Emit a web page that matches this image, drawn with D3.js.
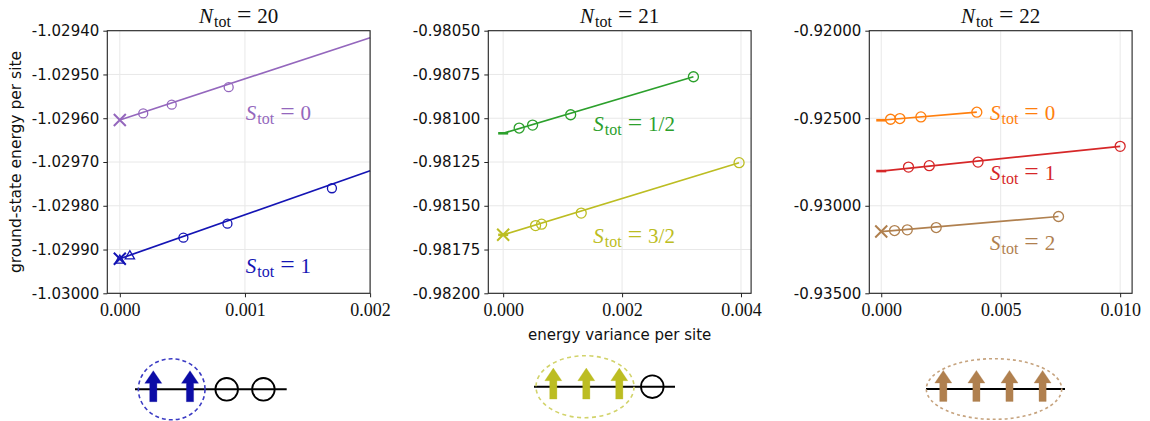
<!DOCTYPE html>
<html>
<head>
<meta charset="utf-8">
<script src="https://cdn.jsdelivr.net/npm/d3@7"></script>
<style>
  body { margin: 0; background: #fff; }
  svg { display: block; }
</style>
</head>
<body>
<svg id="chart" width="1150" height="421"></svg>
<script>
// ---------------- data ----------------
const systemSizes = ["20", "21", "22"];

const xDomains = [[-0.0001, 0.002], [-0.00025, 0.00417], [-0.0005, 0.0105]];
const yDomains = [[-1.0300, -1.0294], [-0.9820, -0.9805], [-0.9350, -0.9200]];

const xTickValues = [[0, 0.001, 0.002], [0, 0.002, 0.004], [0, 0.005, 0.010]];
const yTickValues = [
  [-1.0294, -1.0295, -1.0296, -1.0297, -1.0298, -1.0299, -1.0300],
  [-0.9805, -0.98075, -0.9810, -0.98125, -0.9815, -0.98175, -0.9820],
  [-0.9200, -0.9250, -0.9300, -0.9350]
];

// N_tot = 20
const n20s0Var = [0.000187, 0.000415, 0.00087];
const n20s0E   = [-1.029589, -1.029569, -1.029529];
const n20s0Extrap = [0, -1.029604];
const n20s0FitEnd = [0.002, -1.029416];

const n20s1Var = [0.000508, 0.00086, 0.001695];
const n20s1E   = [-1.029873, -1.029841, -1.029760];
const n20s1TriVar = [0, 0.00008];
const n20s1TriE   = [-1.029925, -1.029915];
const n20s1Extrap = [0, -1.029921];
const n20s1FitEnd = [0.002, -1.029720];

// N_tot = 21
const n21sHalfVar = [0.000269, 0.000495, 0.001135, 0.0032];
const n21sHalfE   = [-0.981056, -0.981039, -0.980980, -0.980763];
const n21sHalfExtrap = [0, -0.981086];

const n21s3HalfVar = [0.000545, 0.000646, 0.001313, 0.003968];
const n21s3HalfE   = [-0.981613, -0.981605, -0.981542, -0.981254];
const n21s3HalfExtrap = [0, -0.981666];

// N_tot = 22
const n22s0Var = [0.00039, 0.00078, 0.00166, 0.0040];
const n22s0E   = [-0.925057, -0.925017, -0.924926, -0.924656];
const n22s0Extrap = [0, -0.925115];

const n22s1Var = [0.00114, 0.00201, 0.00405, 0.0100];
const n22s1E   = [-0.927789, -0.927709, -0.927503, -0.926604];
const n22s1Extrap = [0, -0.928018];

const n22s2Var = [0.000557, 0.00109, 0.0023, 0.00742];
const n22s2E   = [-0.931415, -0.931375, -0.931243, -0.930613];
const n22s2Extrap = [0, -0.931472];

const spinLabels = [["0", "1"], ["1/2", "3/2"], ["0", "1", "2"]];

// site occupations for the cartoons below each panel
const siteStates = [
  ["up", "up", "empty", "empty"],
  ["up", "up", "up", "empty"],
  ["up", "up", "up", "up"]
];

// ---------------- styling / layout ----------------
const colors = {
  purple: "#9467bd", blue: "#1414b4", green: "#2ca02c", olive: "#bcbd22",
  orange: "#ff7f0e", red: "#d62728", brown: "#b0804f"
};
const serif = "'Liberation Serif', 'DejaVu Serif', serif";
const sans = "'DejaVu Sans', 'Liberation Sans', sans-serif";

const plotTop = 30.7, plotBottom = 293.3;
const panelLefts = [107.3, 488.3, 869.3];
const panelWidth = 262.8;

const pts = (xs, ys) => xs.map((x, i) => [x, ys[i]]);
const lastPt = (xs, ys) => [xs[xs.length - 1], ys[ys.length - 1]];

const panels = [
  {
    series: [
      { color: colors.purple, circles: pts(n20s0Var, n20s0E), extrap: n20s0Extrap, fitEnd: n20s0FitEnd,
        markers: ["x"], label: spinLabels[0][0], labelPos: [138.5, 120], r: 4.5 },
      { color: colors.blue, circles: pts(n20s1Var, n20s1E), extrap: n20s1Extrap, fitEnd: n20s1FitEnd,
        triangles: pts(n20s1TriVar, n20s1TriE),
        markers: ["x"], label: spinLabels[0][1], labelPos: [138.5, 273], r: 4.5 }
    ]
  },
  {
    series: [
      { color: colors.green, circles: pts(n21sHalfVar, n21sHalfE), extrap: n21sHalfExtrap,
        fitEnd: lastPt(n21sHalfVar, n21sHalfE), markers: ["bar"], label: spinLabels[1][0], labelPos: [105, 131], r: 5 },
      { color: colors.olive, circles: pts(n21s3HalfVar, n21s3HalfE), extrap: n21s3HalfExtrap,
        fitEnd: lastPt(n21s3HalfVar, n21s3HalfE), markers: ["x", "bar"], label: spinLabels[1][1], labelPos: [105, 243], r: 5 }
    ]
  },
  {
    series: [
      { color: colors.orange, circles: pts(n22s0Var, n22s0E), extrap: n22s0Extrap,
        fitEnd: lastPt(n22s0Var, n22s0E), markers: ["bar"], label: spinLabels[2][0], labelPos: [120.7, 120], r: 5 },
      { color: colors.red, circles: pts(n22s1Var, n22s1E), extrap: n22s1Extrap,
        fitEnd: lastPt(n22s1Var, n22s1E), markers: ["bar"], label: spinLabels[2][1], labelPos: [120.7, 180], r: 5 },
      { color: colors.brown, circles: pts(n22s2Var, n22s2E), extrap: n22s2Extrap,
        fitEnd: lastPt(n22s2Var, n22s2E), markers: ["x"], label: spinLabels[2][2], labelPos: [120.7, 250], r: 5 }
    ]
  }
];

// cartoon layout: first site x, site spacing, line y, ellipse centre / radii, colours
const cartoons = [
  { x0: 153.3, dx: 36.7, y: 389.3, lineL: 135, lineR: 286.7, ex: 171.7, rx: 33.3, ry: 30.5,
    fill: "#0c0ca6", ring: "#3c3cc4", dash: "4,3" },
  { x0: 553.3, dx: 33.0, y: 386.7, lineL: 534, lineR: 675, ex: 585, rx: 49, ry: 31,
    fill: "#bcbd22", ring: "#d2d36a", dash: "4,3.5" },
  { x0: 943.3, dx: 33.1, y: 389, lineL: 926, lineR: 1065, ex: 994, rx: 67.7, ry: 30.3,
    fill: "#b0804f", ring: "#c6a37e", dash: "3,3" }
];

// ---------------- drawing ----------------
const svg = d3.select("#chart");
const fmtY = v => d3.format(".5f")(v).replace("\u2212", "-");
const fmtX = v => d3.format(".3f")(v);

// math-style label: italic symbol, roman subscript, "=" and value
function mathText(g, x, y, sym, sub, val, size, color, anchor, gap) {
  const t = g.append("text")
    .attr("x", x).attr("y", y)
    .attr("font-family", serif).attr("font-size", size)
    .attr("fill", color).attr("text-anchor", anchor);
  t.append("tspan").attr("font-style", "italic").text(sym);
  t.append("tspan").attr("font-size", size * 0.76).attr("dy", size * 0.2).attr("dx", 1).text(sub);
  t.append("tspan").attr("dy", -size * 0.2).attr("dx", gap).attr("font-size", size * 1.22).text("=");
  t.append("tspan").attr("dx", gap).text(val);
  return t;
}

panels.forEach((p, i) => {
  const left = panelLefts[i];
  const x = d3.scaleLinear().domain(xDomains[i]).range([left, left + panelWidth]);
  const y = d3.scaleLinear().domain(yDomains[i]).range([plotBottom, plotTop]);
  const g = svg.append("g");

  // grid
  g.append("g").selectAll("line").data(xTickValues[i]).join("line")
    .attr("x1", d => x(d)).attr("x2", d => x(d))
    .attr("y1", plotTop).attr("y2", plotBottom)
    .attr("stroke", "#e8e8e8").attr("stroke-width", 1);
  g.append("g").selectAll("line").data(yTickValues[i]).join("line")
    .attr("x1", left).attr("x2", left + panelWidth)
    .attr("y1", d => y(d)).attr("y2", d => y(d))
    .attr("stroke", "#e8e8e8").attr("stroke-width", 1);

  const line = d3.line().x(d => x(d[0])).y(d => y(d[1]));

  p.series.forEach(s => {
    // extrapolation line
    g.append("path").attr("d", line([s.extrap, s.fitEnd]))
      .attr("fill", "none").attr("stroke", s.color).attr("stroke-width", 1.7);

    // measured points
    g.append("g").selectAll("circle").data(s.circles).join("circle")
      .attr("cx", d => x(d[0])).attr("cy", d => y(d[1])).attr("r", s.r)
      .attr("fill", "none").attr("stroke", s.color).attr("stroke-width", 1.3);

    if (s.triangles) {
      const tri = d3.symbol().type(d3.symbolTriangle).size(38);
      g.append("g").selectAll("path").data(s.triangles).join("path")
        .attr("d", tri)
        .attr("transform", d => `translate(${x(d[0])},${y(d[1])})`)
        .attr("fill", "none").attr("stroke", s.color).attr("stroke-width", 1.3);
    }

    // extrapolated value
    const ex = x(s.extrap[0]), ey = y(s.extrap[1]);
    s.markers.forEach(m => {
      if (m === "x") {
        const h = 6;
        g.append("path")
          .attr("d", `M${ex - h},${ey - h}L${ex + h},${ey + h}M${ex - h},${ey + h}L${ex + h},${ey - h}`)
          .attr("stroke", s.color).attr("stroke-width", 2).attr("fill", "none");
      } else {
        g.append("line")
          .attr("x1", ex - 5).attr("x2", ex + 5).attr("y1", ey).attr("y2", ey)
          .attr("stroke", s.color).attr("stroke-width", 2.6);
      }
    });

    // spin label
    mathText(g, left + s.labelPos[0], s.labelPos[1], "S", "tot", s.label, 21, s.color, "start", 6);
  });

  // frame
  g.append("rect").attr("x", left).attr("y", plotTop)
    .attr("width", panelWidth).attr("height", plotBottom - plotTop)
    .attr("fill", "none").attr("stroke", "#222").attr("stroke-width", 1.1);

  // axes
  const ax = g.append("g").attr("transform", `translate(0,${plotBottom})`)
    .call(d3.axisBottom(x).tickValues(xTickValues[i]).tickFormat(fmtX).tickSize(4).tickPadding(6));
  ax.select(".domain").remove();
  ax.selectAll("text").attr("font-family", serif).attr("font-size", 18).attr("fill", "#111");
  ax.selectAll("line").attr("stroke", "#222");

  const ay = g.append("g").attr("transform", `translate(${left},0)`)
    .call(d3.axisLeft(y).tickValues(yTickValues[i]).tickFormat(fmtY).tickSize(4).tickPadding(4));
  ay.select(".domain").remove();
  ay.selectAll("text").attr("font-family", sans).attr("font-size", 15).attr("fill", "#111");
  ay.selectAll("line").attr("stroke", "#222");

  // title
  mathText(g, left + panelWidth / 2, 23, "N", "tot", systemSizes[i], 21, "#111", "middle", 6);
});

// axis titles
svg.append("text")
  .attr("transform", "translate(21,162) rotate(-90)")
  .attr("text-anchor", "middle")
  .attr("font-family", sans).attr("font-size", 15.5).attr("fill", "#111")
  .text("ground-state energy per site");

svg.append("text")
  .attr("x", panelLefts[1] + panelWidth / 2).attr("y", 340)
  .attr("text-anchor", "middle")
  .attr("font-family", sans).attr("font-size", 15).attr("fill", "#111")
  .text("energy variance per site");

// cartoons of the spin clusters
function arrowPath(cx, ly) {
  const tip = ly - 18.6, headBase = ly - 6, bottom = ly + 12.4, hw = 8.5, sw = 3.6;
  return `M${cx},${tip}L${cx + hw},${headBase}L${cx + sw},${headBase}L${cx + sw},${bottom}` +
         `L${cx - sw},${bottom}L${cx - sw},${headBase}L${cx - hw},${headBase}Z`;
}

cartoons.forEach((c, i) => {
  const g = svg.append("g");
  g.append("line").attr("x1", c.lineL).attr("x2", c.lineR).attr("y1", c.y).attr("y2", c.y)
    .attr("stroke", "#000").attr("stroke-width", 2);
  siteStates[i].forEach((st, k) => {
    const cx = c.x0 + k * c.dx;
    if (st === "up") {
      g.append("path").attr("d", arrowPath(cx, c.y)).attr("fill", c.fill)
        .attr("stroke", c.fill).attr("stroke-width", 0.6).attr("stroke-opacity", 0.5);
    } else {
      g.append("circle").attr("cx", cx).attr("cy", c.y).attr("r", 11.3)
        .attr("fill", "none").attr("stroke", "#000").attr("stroke-width", 1.8);
    }
  });
  g.append("ellipse").attr("cx", c.ex).attr("cy", c.y).attr("rx", c.rx).attr("ry", c.ry)
    .attr("fill", "none").attr("stroke", c.ring).attr("stroke-width", 1.6)
    .attr("stroke-dasharray", c.dash);
});
</script>
</body>
</html>
